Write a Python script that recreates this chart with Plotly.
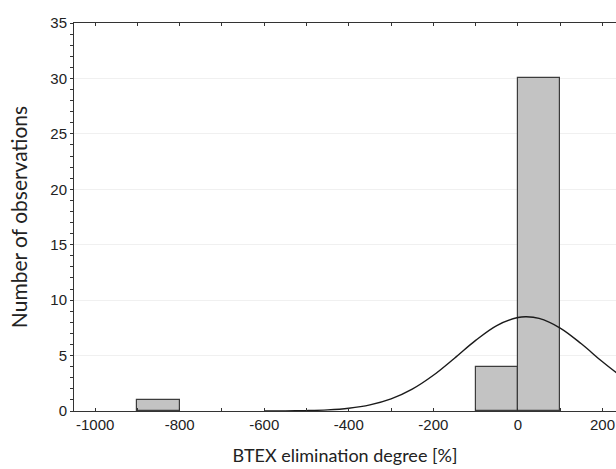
import plotly.graph_objects as go

# Histogram data (bin centres, counts), bin width 100
bin_centers = [-850, -50, 50]
counts = [1, 4, 30]

# Fitted normal curve
curve_x = [-600, -550, -500, -450, -400, -350, -300, -250, -200, -150, -100, -50,
           0, 20, 50, 100, 150, 200, 250]
curve_y = [0.004, 0.013, 0.038, 0.10, 0.25, 0.55, 1.09, 1.97, 3.22, 4.76, 6.37, 7.71,
           8.43, 8.5, 8.35, 7.48, 6.06, 4.44, 2.95]

x_tickvals = [-1000, -800, -600, -400, -200, 0, 200]
y_tickvals = [0, 5, 10, 15, 20, 25, 30, 35]

fig = go.Figure()
fig.add_trace(go.Bar(
    x=bin_centers, y=counts, width=100,
    marker=dict(color="#c3c3c3", line=dict(color="#3c3c3c", width=1.2)),
    showlegend=False, hoverinfo="skip",
))
fig.add_trace(go.Scatter(
    x=curve_x, y=curve_y, mode="lines",
    line=dict(color="#1a1a1a", width=1.4, shape="spline"),
    showlegend=False, hoverinfo="skip",
))

tick_font = dict(family="Liberation Sans, Arial, sans-serif", size=15, color="#222222")

fig.update_layout(
    width=616, height=469,
    margin=dict(l=74, r=0, t=23, b=58),
    paper_bgcolor="white", plot_bgcolor="white",
    bargap=0,
    xaxis=dict(
        range=[-1050, 232],
        automargin=False,
        tickvals=x_tickvals, ticktext=[str(v) for v in x_tickvals],
        ticks="inside", ticklen=3, tickcolor="#333333",
        minor=dict(dtick=100, tick0=0, ticks="inside", ticklen=3, tickcolor="#333333"),
        showline=True, linecolor="#333333", linewidth=1, mirror="ticks",
        showgrid=False, zeroline=False,
        tickfont=tick_font,
        title=dict(text="BTEX elimination degree [%]",
                   font=dict(family="Lato, Open Sans, sans-serif", size=18, color="#222222"),
                   standoff=17),
    ),
    yaxis=dict(
        range=[0, 35],
        automargin=False,
        tickvals=y_tickvals, ticktext=[str(v) for v in y_tickvals],
        ticks="outside", ticklen=3, tickcolor="#333333",
        minor=dict(dtick=1, tick0=0, ticks="outside", ticklen=3, tickcolor="#333333",
                   showgrid=False),
        showline=True, linecolor="#333333", linewidth=1,
        showgrid=True, gridcolor="#f0f0f0", gridwidth=1,
        zeroline=False,
        tickfont=tick_font,
        title=dict(text="Number of observations",
                   font=dict(family="Lato, Open Sans, sans-serif", size=21, color="#222222"),
                   standoff=16),
    ),
)

fig.write_html(
    "out.html",
    config={"displayModeBar": False},
    post_script="document.body.style.margin='0';document.body.style.overflow='hidden';",
)
